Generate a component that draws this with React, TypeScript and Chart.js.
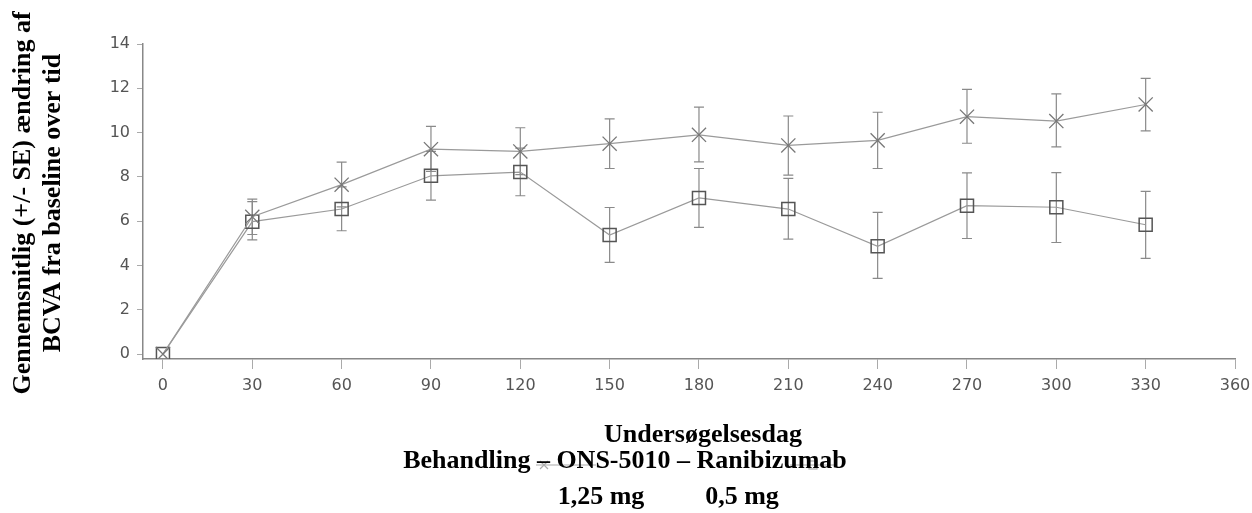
import React, { useEffect, useRef } from "react";
import { Chart, registerables } from "chart.js";

Chart.register(...registerables);

const days = [0, 30, 60, 90, 120, 150, 180, 210, 240, 270, 300, 330];
const xTicks = [0, 30, 60, 90, 120, 150, 180, 210, 240, 270, 300, 330, 360];
const yTicks = [0, 2, 4, 6, 8, 10, 12, 14];

const onsMean = [0, 6.2, 7.65, 9.25, 9.15, 9.5, 9.9, 9.42, 9.65, 10.72, 10.52, 11.27];
const onsUpper = [0, 7.0, 8.67, 10.28, 10.22, 10.62, 11.15, 10.75, 10.92, 11.95, 11.75, 12.45];
const onsLower = [0, 5.4, 6.65, 8.25, 8.1, 8.38, 8.68, 8.08, 8.38, 9.52, 9.36, 10.08];

const ranMean = [0, 5.98, 6.55, 8.05, 8.22, 5.38, 7.05, 6.55, 4.87, 6.7, 6.63, 5.84];
const ranUpper = [0, 6.88, 7.55, 9.15, 9.3, 6.62, 8.38, 7.93, 6.4, 8.18, 8.19, 7.35];
const ranLower = [0, 5.16, 5.57, 6.95, 7.15, 4.14, 5.72, 5.19, 3.42, 5.22, 5.04, 4.32];

const yTitle = ["Gennemsnitlig (+/- SE) ændring af", "BCVA fra baseline over tid"];
const xTitle = "Undersøgelsesdag";
const legendTitle = "Behandling – ONS-5010 – Ranibizumab";
const legendOns = "1,25 mg";
const legendRan = "0,5 mg";

const errorBars = [
  { upper: onsUpper, lower: onsLower },
  { upper: ranUpper, lower: ranLower },
];

const errorBarPlugin = {
  id: "errorBars",
  beforeDatasetsDraw(chart: any) {
    const { ctx, scales } = chart;
    const x = scales.x;
    const y = scales.y;
    ctx.save();
    ctx.strokeStyle = "#8a8a8a";
    ctx.lineWidth = 1.2;
    errorBars.forEach((eb) => {
      days.forEach((d, i) => {
        if (eb.upper[i] === eb.lower[i]) return;
        const xp = x.getPixelForValue(d);
        const yu = y.getPixelForValue(eb.upper[i]);
        const yl = y.getPixelForValue(eb.lower[i]);
        ctx.beginPath();
        ctx.moveTo(xp, yu);
        ctx.lineTo(xp, yl);
        ctx.moveTo(xp - 5, yu);
        ctx.lineTo(xp + 5, yu);
        ctx.moveTo(xp - 5, yl);
        ctx.lineTo(xp + 5, yl);
        ctx.stroke();
      });
    });
    ctx.restore();
  },
};

const textPlugin = {
  id: "texts",
  afterDraw(chart: any) {
    const { ctx } = chart;
    ctx.save();
    ctx.fillStyle = "#000";
    ctx.font = "bold 26px 'Liberation Serif'";
    ctx.textAlign = "center";
    ctx.textBaseline = "middle";
    // y title
    ctx.save();
    ctx.translate(0, 203);
    ctx.rotate(-Math.PI / 2);
    ctx.fillText(yTitle[0], 0, 23);
    ctx.fillText(yTitle[1], 0, 53);
    ctx.restore();
    // x title
    ctx.fillText(xTitle, 703, 435);
    // legend samples (behind text)
    ctx.strokeStyle = "#aaa";
    ctx.lineWidth = 1.2;
    ctx.beginPath();
    ctx.moveTo(536, 465);
    ctx.lineTo(596, 465);
    ctx.moveTo(790, 465);
    ctx.lineTo(835, 465);
    ctx.stroke();
    ctx.beginPath();
    ctx.moveTo(540, 461);
    ctx.lineTo(548, 469);
    ctx.moveTo(548, 461);
    ctx.lineTo(540, 469);
    ctx.stroke();
    ctx.strokeRect(809, 461, 8, 8);
    ctx.fillStyle = "#000";
    ctx.fillText(legendTitle, 625, 461);
    ctx.fillText(legendOns, 601, 497);
    ctx.fillText(legendRan, 742, 497);
    ctx.restore();
  },
};

export default function App() {
  const ref = useRef<HTMLCanvasElement>(null);
  useEffect(() => {
    if (!ref.current) return;
    const tickFont = { family: "'DejaVu Sans'", size: 16 };
    const chart = new Chart(ref.current, {
      type: "line",
      data: {
        datasets: [
          {
            label: "ONS-5010 1,25 mg",
            data: days.map((d, i) => ({ x: d, y: onsMean[i] })),
            borderColor: "#9a9a9a",
            borderWidth: 1.2,
            pointStyle: "crossRot",
            pointRadius: 10,
            pointBorderColor: "#777",
            pointBorderWidth: 1.3,
            pointBackgroundColor: "transparent",
            tension: 0,
          },
          {
            label: "Ranibizumab 0,5 mg",
            data: days.map((d, i) => ({ x: d, y: ranMean[i] })),
            borderColor: "#9a9a9a",
            borderWidth: 1.2,
            pointStyle: "rect",
            pointRadius: 9.2,
            pointBorderColor: "#555",
            pointBorderWidth: 1.5,
            pointBackgroundColor: "transparent",
            tension: 0,
          },
        ],
      },
      options: {
        responsive: false,
        animation: false,
        layout: { padding: { top: 44, right: 17, left: 0, bottom: 0 } },
        plugins: {
          legend: { display: false },
          tooltip: { enabled: false },
          title: { display: false },
        },
        scales: {
          x: {
            type: "linear",
            min: -6.7,
            max: 360,
            afterFit: (s: any) => {
              s.height = 154;
              s.paddingRight = 0;
              s.paddingLeft = 0;
            },
            afterBuildTicks: (axis: any) => {
              axis.ticks = xTicks.map((v) => ({ value: v }));
            },
            grid: {
              display: true,
              drawOnChartArea: false,
              drawTicks: true,
              tickLength: 10,
              color: "#aaa",
            },
            border: { display: true, color: "#888", width: 1.5 },
            ticks: {
              font: tickFont,
              color: "#555",
              padding: 7,
              maxRotation: 0,
              autoSkip: false,
            },
          },
          y: {
            type: "linear",
            min: -0.22,
            max: 14,
            afterFit: (s: any) => {
              s.width = 143;
              s.paddingTop = 0;
              s.paddingBottom = 0;
            },
            afterBuildTicks: (axis: any) => {
              axis.ticks = yTicks.map((v) => ({ value: v }));
            },
            grid: {
              display: true,
              drawOnChartArea: false,
              drawTicks: true,
              tickLength: 6,
              color: "#aaa",
            },
            border: { display: true, color: "#888", width: 1.5 },
            ticks: { font: tickFont, color: "#555", padding: 7 },
          },
        },
      },
      plugins: [errorBarPlugin, textPlugin],
    });
    return () => chart.destroy();
  }, []);
  return (
    <div style={{ position: "fixed", left: 0, top: 0, width: 1252, height: 513, background: "#fff" }}>
      <canvas ref={ref} width={1252} height={513} />
    </div>
  );
}
